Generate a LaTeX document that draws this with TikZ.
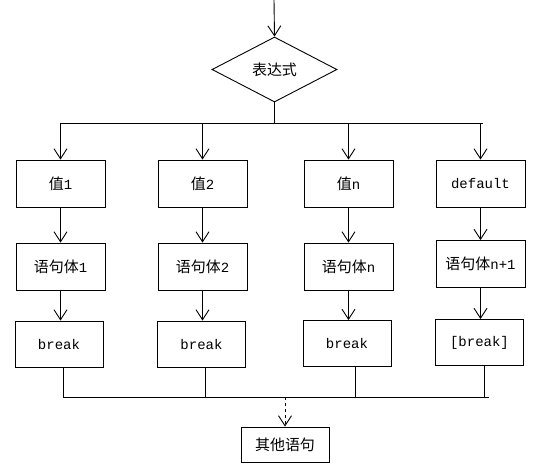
\documentclass[tikz,border=0pt]{standalone}
\usepackage{fontspec}
\setmainfont{Liberation Mono}
\newfontfamily\cjk[Scale=1.07]{Noto Sans CJK SC}
\usepackage{tikz}
\usetikzlibrary{
    positioning,
    arrows.meta,
    shapes.geometric
}

\begin{document}
\begin{tikzpicture}[x=1pt, y=-1pt, line width=0.9pt, >={Straight Barb[length=10pt,width=13pt]},
    box/.style={draw, minimum width=89pt, minimum height=47pt, inner sep=0pt, font=\fontsize{14}{16}\selectfont},
    cond/.style={draw, diamond, minimum width=125pt, minimum height=65pt, inner sep=0pt, font=\fontsize{14}{16}\selectfont}]
        \useasboundingbox (0,0) rectangle (544,475);

        % switch expression
        \coordinate (entry) at (274,0);
        \node[cond] (expr) at (274.5,69.5) {\cjk 表达式};
        \draw[->] (entry) -- (expr.north);

        % case values
        \node[box] (val1) at (60.5,183.5) {{\cjk 值}1};
        \node[box] (val2) at (202.5,183.5) {{\cjk 值}2};
        \node[box] (valn) at (348.5,183.5) {{\cjk 值}n};
        \node[box] (valdef) at (480.5,183.5) {default};

        % statements
        \node[box] (body1) at (60.5,266.5) {{\cjk 语句体}1};
        \node[box] (body2) at (202.5,266.5) {{\cjk 语句体}2};
        \node[box] (bodyn) at (348.5,266.5) {{\cjk 语句体}n};
        \node[box] (bodydef) at (480.5,264) {{\cjk 语句体}n+1};

        % breaks
        \node[box, minimum width=88pt, minimum height=46pt] (brk1) at (59,344) {break};
        \node[box, minimum width=88pt, minimum height=46pt] (brk2) at (201.5,344) {break};
        \node[box, minimum width=88pt, minimum height=46pt] (brkn) at (347,343.5) {break};
        \node[box, minimum width=88pt, minimum height=46pt] (brkdef) at (479.5,342.5) {[break]};

        \node[box, minimum width=88pt, minimum height=35pt] (rest) at (285,444.5) {\cjk 其他语句};

        % top branch
        \coordinate (splitL) at (61,123);
        \coordinate (splitR) at (483,123);
        \draw (expr.south) -- (expr.south |- splitL);
        \draw (splitL) -- (splitR);
        \draw[->] (val1.north |- splitL) -- (val1.north);
        \draw[->] (val2.north |- splitL) -- (val2.north);
        \draw[->] (valn.north |- splitL) -- (valn.north);
        \draw[->] (valdef.north |- splitL) -- (valdef.north);

        \draw[->] (val1) -- (body1);
        \draw[->] (val2) -- (body2);
        \draw[->] (valn) -- (bodyn);
        \draw[->] (valdef) -- (bodydef);

        \draw[->] (body1.south) -- (body1.south |- brk1.north);
        \draw[->] (body2.south) -- (body2.south |- brk2.north);
        \draw[->] (bodyn.south) -- (bodyn.south |- brkn.north);
        \draw[->] (bodydef.south) -- (bodydef.south |- brkdef.north);

        % bottom join
        \coordinate (joinL) at (63,397);
        \coordinate (joinR) at (489,397);
        \draw (joinL) -- (joinR);
        \draw ([xshift=4pt]brk1.south) -- ([xshift=4pt]brk1.south |- joinL);
        \draw ([xshift=3.5pt]brk2.south) -- ([xshift=3.5pt]brk2.south |- joinL);
        \draw ([xshift=8pt]brkn.south) -- ([xshift=8pt]brkn.south |- joinL);
        \draw ([xshift=5pt]brkdef.south) -- ([xshift=5pt]brkdef.south |- joinL);
        \draw[->, dashed] (rest.north |- joinL) -- (rest.north);
    \end{tikzpicture}
\end{document}
